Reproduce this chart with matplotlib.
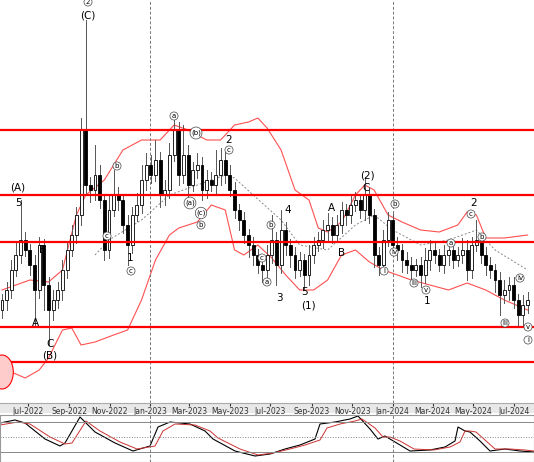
import numpy as np
import matplotlib
matplotlib.use("Agg")
import matplotlib.pyplot as plt
import matplotlib.dates as mdates
from matplotlib.patches import Rectangle, Circle

# weekly candles, values read as chart-pixel levels (axis is inverted: smaller = higher)
start = np.datetime64("2022-05-23")
closes = [300, 290, 270, 255, 240, 250, 265, 290, 245, 285, 310, 300, 290, 270, 250, 235,
          215, 130, 185, 190, 175, 200, 250, 210, 195, 200, 225, 245, 215, 205, 180, 165,
          175, 160, 195, 190, 155, 130, 175, 155, 185, 170, 165, 190, 180, 185, 175, 160,
          175, 190, 210, 220, 235, 245, 255, 265, 270, 255, 240, 265, 230, 245, 255, 270,
          260, 275, 255, 245, 240, 230, 225, 235, 225, 210, 215, 205, 200, 210, 195, 215,
          255, 265, 240, 220, 245, 250, 260, 265, 270, 265, 275, 260, 250, 255, 265, 255,
          250, 260, 255, 250, 270, 245, 240, 255, 265, 270, 280, 295, 290, 285, 300, 315,
          305, 300]
wick_up = [6, 8, 10, 12, 40, 8, 6, 10, 8, 6, 8, 10, 8, 10, 8, 10,
           8, 12, 110, 8, 30, 10, 6, 15, 25, 8, 6, 10, 8, 12, 15, 12,
           10, 20, 8, 10, 12, 10, 8, 30, 10, 8, 12, 8, 10, 8, 25, 12,
           8, 10, 8, 6, 8, 6, 8, 6, 8, 10, 25, 8, 20, 8, 6, 8,
           8, 6, 10, 8, 8, 10, 12, 8, 10, 8, 6, 10, 8, 6, 18, 8,
           6, 8, 10, 8, 6, 8, 6, 8, 8, 6, 8, 12, 10, 8, 6, 10,
           8, 10, 8, 12, 10, 8, 20, 6, 8, 8, 6, 8, 10, 8, 8, 6,
           10, 8]
wick_dn = [8, 10, 8, 6, 8, 6, 10, 35, 8, 25, 35, 10, 8, 10, 8, 6,
           8, 10, 8, 12, 10, 8, 10, 8, 6, 10, 8, 20, 8, 6, 8, 10,
           8, 6, 12, 10, 8, 6, 10, 8, 20, 6, 8, 10, 8, 6, 8, 10,
           8, 6, 8, 10, 8, 12, 10, 8, 12, 10, 8, 20, 8, 10, 12, 8,
           6, 15, 10, 8, 6, 8, 10, 8, 6, 8, 10, 8, 6, 8, 10, 8,
           12, 10, 8, 6, 8, 10, 12, 8, 10, 6, 12, 8, 10, 8, 6, 8,
           10, 8, 6, 8, 10, 8, 6, 8, 10, 8, 12, 20, 8, 10, 8, 12,
           10, 8]

upper_wk = [0, 6, 10, 13, 16, 18, 22, 26, 30, 34, 37, 40, 44, 47, 50, 53, 55, 57, 60, 63, 66, 68,
            70, 73, 76, 78, 80, 83, 86, 90, 94, 98, 100, 102, 104, 108, 113]
upper_lv = [290, 280, 282, 270, 215, 195, 180, 150, 140, 140, 125, 130, 140, 140, 125, 122, 118, 128,
            150, 190, 200, 228, 232, 222, 195, 185, 190, 215, 222, 230, 232, 225, 212, 215, 238, 238, 235]
lower_wk = [0, 5, 8, 10, 13, 15, 17, 20, 24, 27, 30, 33, 36, 38, 42, 45, 48, 50, 52, 55, 58, 61, 64,
            67, 70, 73, 76, 79, 82, 85, 88, 92, 96, 100, 104, 108, 113]
lower_lv = [368, 378, 370, 358, 330, 328, 345, 342, 335, 330, 300, 260, 235, 228, 222, 205, 210, 250,
            255, 245, 258, 275, 290, 290, 280, 255, 250, 262, 270, 275, 280, 285, 290, 283, 290, 300, 310]
mid_wk = [20, 23, 30, 36, 42, 48, 50, 54, 60, 64, 70, 76, 80, 84, 90, 96, 102, 106, 113]
mid_lv = [255, 240, 220, 195, 185, 175, 178, 195, 220, 245, 250, 225, 215, 230, 245, 240, 230, 250, 270]

levels = [130, 195, 242, 327, 362]

# stochastic, read at pixel x positions
stk_x = [0, 15, 25, 45, 60, 65, 80, 95, 115, 133, 150, 158, 170, 190, 205, 213, 235, 255, 270, 285,
         300, 315, 320, 335, 350, 358, 370, 378, 385, 395, 410, 430, 445, 455, 458, 465, 470, 480,
         490, 505, 520, 534]
stk_k = [78, 84, 78, 46, 32, 38, 90, 60, 38, 22, 32, 70, 80, 76, 62, 46, 22, 12, 16, 26,
         34, 46, 76, 80, 86, 92, 66, 46, 52, 40, 22, 24, 30, 42, 70, 62, 60, 42, 22, 26, 22, 20]
std_x = [0, 18, 30, 50, 65, 72, 86, 100, 120, 137, 155, 163, 175, 195, 210, 218, 240, 258, 273, 290,
         305, 320, 327, 340, 355, 362, 375, 383, 390, 400, 414, 434, 450, 460, 465, 470, 476, 485,
         495, 510, 525, 534]
std_d = [74, 80, 76, 50, 36, 38, 82, 62, 40, 26, 32, 62, 76, 74, 62, 48, 26, 14, 18, 26,
         34, 44, 68, 76, 82, 86, 68, 50, 50, 42, 26, 24, 30, 40, 62, 62, 60, 44, 26, 26, 24, 22]

fig = plt.figure(figsize=(5.34, 4.62), dpi=100)
strip = fig.add_axes([0, 49 / 462, 1, 10 / 462])
strip.set_facecolor("#e8e8e8")
strip.set_xticks([])
strip.set_yticks([])
for s in strip.spines.values():
    s.set_visible(False)
ax = fig.add_axes([0, 59 / 462, 1, 403 / 462])
ax2 = fig.add_axes([0, 0, 1, 47 / 462])

x0 = mdates.date2num(np.datetime64("2022-05-20"))
px = 30.4 / 20.2  # days per pixel
x1 = x0 + 534 * px
dates = mdates.date2num(start + np.arange(len(closes)) * np.timedelta64(7, "D"))

prev = closes[0] + 10
for d, c, wu, wd in zip(dates, closes, wick_up, wick_dn):
    o = prev
    top, bot = min(o, c), max(o, c)
    ax.plot([d, d], [top - wu, bot + wd], color="#555555", lw=0.7, zorder=3)
    fc = "white" if c < o else "black"
    ax.add_patch(Rectangle((d - 2.2, top), 4.4, max(bot - top, 1), facecolor=fc,
                           edgecolor="black", lw=0.6, zorder=4))
    prev = c

wk2d = lambda w: mdates.date2num(start + np.array(w) * np.timedelta64(7, "D"))
ax.plot(wk2d(upper_wk), upper_lv, color="#ff5050", lw=0.8, zorder=2)
ax.plot(wk2d(lower_wk), lower_lv, color="#ff5050", lw=0.8, zorder=2)
ax.plot(wk2d(mid_wk), mid_lv, color="#888888", lw=0.7, ls=(0, (2, 2)), zorder=2)
for lv in levels:
    ax.axhline(lv, color="#ff0000", lw=1.6, zorder=5)
for m in ["2023-01-01", "2024-01-01"]:
    ax.axvline(mdates.date2num(np.datetime64(m)), color="#777777", lw=0.7, ls=(0, (3, 2)))
ax.add_patch(Circle((x0 + 2 * px, 372), 17, transform=ax.transData, facecolor="#ffcccc",
                    edgecolor="red", lw=0.8, zorder=6))

labels = [(88, 16, "(C)"), (18, 188, "(A)"), (18, 203, "5"), (43, 250, "B"), (35, 323, "A"),
          (50, 344, "C"), (50, 356, "(B)"), (130, 258, "1"), (229, 140, "2"), (288, 210, "4"),
          (279, 298, "3"), (305, 292, "5"), (308, 306, "(1)"), (331, 208, "A"), (342, 253, "B"),
          (367, 176, "(2)"), (366, 188, "C"), (427, 301, "1"), (474, 203, "2")]
for xp, yp, t in labels:
    ax.text(x0 + xp * px, yp, t, fontsize=7.5, ha="center", va="center", zorder=7)
small = [(88, 2, "2"), (174, 116, "a"), (196, 133, "(b)"), (229, 150, "c"), (117, 166, "b"),
         (190, 203, "(a)"), (201, 213, "(c)"), (201, 225, "b"), (107, 236, "c"), (131, 271, "c"),
         (271, 225, "b"), (262, 258, "c"), (267, 282, "a"), (395, 204, "b"), (384, 271, "i"),
         (394, 252, "iv"), (414, 283, "iii"), (426, 290, "v"), (451, 243, "a"), (471, 214, "c"),
         (482, 237, "b"), (520, 278, "iv"), (505, 323, "iii"), (528, 327, "v"), (528, 340, "i")]
for xp, yp, t in small:
    ax.text(x0 + xp * px, yp, t, fontsize=5, ha="center", va="center", zorder=7,
            bbox=dict(boxstyle="circle,pad=0.15", fc="white", ec="#444444", lw=0.5))

ax.set_xlim(x0, x1)
ax.set_ylim(403, 0)
ax.set_yticks([])
ax.xaxis.set_major_locator(mdates.MonthLocator(bymonth=[1, 3, 5, 7, 9, 11]))
ax.xaxis.set_major_formatter(mdates.DateFormatter("%b-%Y"))
ax.tick_params(axis="x", labelsize=5.5, length=2, pad=1, colors="#333333")
for s in ax.spines.values():
    s.set_visible(False)
ax.spines["bottom"].set_visible(True)
ax.spines["bottom"].set_color("#aaaaaa")

ax2.plot(x0 + np.array(stk_x) * px, stk_k, color="black", lw=0.8)
ax2.plot(x0 + np.array(std_x) * px, std_d, color="#cc3333", lw=0.7)
for lv, st in [(80, "-"), (20, "-"), (50, ":")]:
    ax2.axhline(lv, color="#888888", lw=0.7, ls=st)
for m in ["2023-01-01", "2024-01-01"]:
    ax2.axvline(mdates.date2num(np.datetime64(m)), color="#777777", lw=0.7, ls=(0, (3, 2)))
ax2.set_xlim(x0, x1)
ax2.set_ylim(0, 94)
ax2.set_xticks([])
ax2.set_yticks([])
for s in ax2.spines.values():
    s.set_color("#999999")

fig.savefig("out.png", dpi=100)
